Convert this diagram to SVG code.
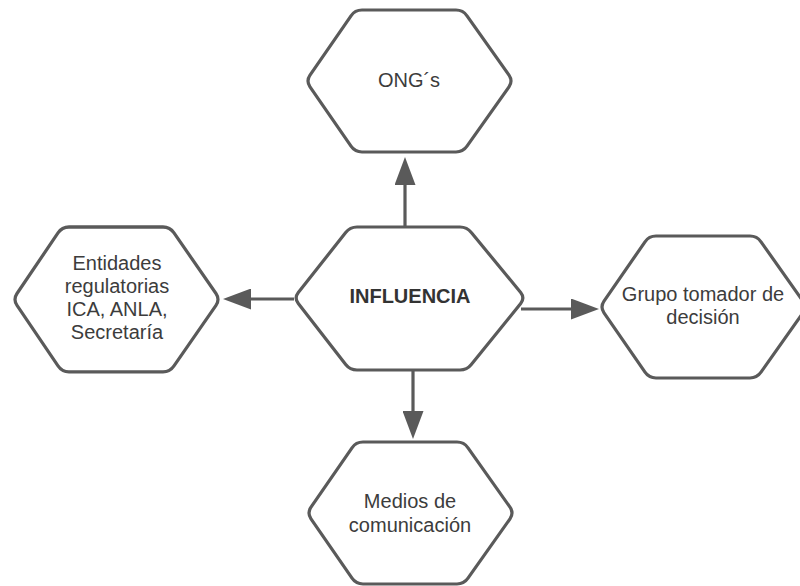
<svg xmlns="http://www.w3.org/2000/svg" width="800" height="586" viewBox="0 0 800 586">
  <style>
    .hex { fill: #ffffff; stroke: #5a5a5a; stroke-width: 3.2; stroke-linejoin: round; }
    .link { fill: none; stroke: #5a5a5a; stroke-width: 3.2; }
    .label { font-family: "Liberation Sans", Arial, sans-serif; font-size: 20px; fill: #3c3c3c; text-anchor: middle; }
    .title { font-weight: bold; fill: #333333; }
  </style>
  <defs>
    <!-- rounded hexagon, 207 x 142 -->
    <path id="hexShape" d="M4,65.2 L45,5.8 Q49,0 56,0 L150,0 Q157,0 161,5.8 L203,65.2 Q207,71 203,76.8 L161,136.2 Q157,142 150,142 L56,142 Q49,142 45,136.2 L4,76.8 Q0,71 4,65.2 Z"/>
    <marker id="arrow" viewBox="0 0 28 21" markerWidth="28" markerHeight="21" refX="2" refY="10.5" orient="auto" markerUnits="userSpaceOnUse">
      <path d="M0,0 L28,10.5 L0,21 Z" fill="#5a5a5a"/>
    </marker>
  </defs>
  <rect width="800" height="586" fill="#ffffff"/>

  <g id="connectors">
    <line class="link" x1="405" y1="227" x2="405" y2="183" marker-end="url(#arrow)"/>
    <line class="link" x1="294" y1="299" x2="249" y2="299" marker-end="url(#arrow)"/>
    <line class="link" x1="521" y1="309" x2="573" y2="309" marker-end="url(#arrow)"/>
    <line class="link" x1="413" y1="370" x2="413" y2="413" marker-end="url(#arrow)"/>
  </g>

  <g id="ongs">
    <use href="#hexShape" class="hex" transform="translate(306,10)"/>
    <text class="label" x="409" y="87">ONG´s</text>
  </g>

  <g id="influencia">
    <path class="hex" d="M298.3,292.5 L345.7,232.5 Q350,227 357,227 L460,227 Q467,227 471.3,232.5 L520.7,292.5 Q525,298 520.7,303.5 L471.3,364.5 Q467,370 460,370 L357,370 Q350,370 345.7,364.5 L298.3,303.5 Q294,298 298.3,292.5 Z"/>
    <text class="label title" x="410" y="303">INFLUENCIA</text>
  </g>

  <g id="entidades">
    <use href="#hexShape" class="hex" transform="translate(13,227) scale(1,1.02)"/>
    <text class="label" x="117" y="270">Entidades</text>
    <text class="label" x="117" y="293">regulatorias</text>
    <text class="label" x="117" y="316">ICA, ANLA,</text>
    <text class="label" x="117" y="339">Secretaría</text>
  </g>

  <g id="grupo">
    <use href="#hexShape" class="hex" transform="translate(600,236)"/>
    <text class="label" x="703" y="301">Grupo tomador de</text>
    <text class="label" x="703" y="324">decisión</text>
  </g>

  <g id="medios">
    <use href="#hexShape" class="hex" transform="translate(307,442)"/>
    <text class="label" x="410" y="508">Medios de</text>
    <text class="label" x="410" y="532">comunicación</text>
  </g>
</svg>
